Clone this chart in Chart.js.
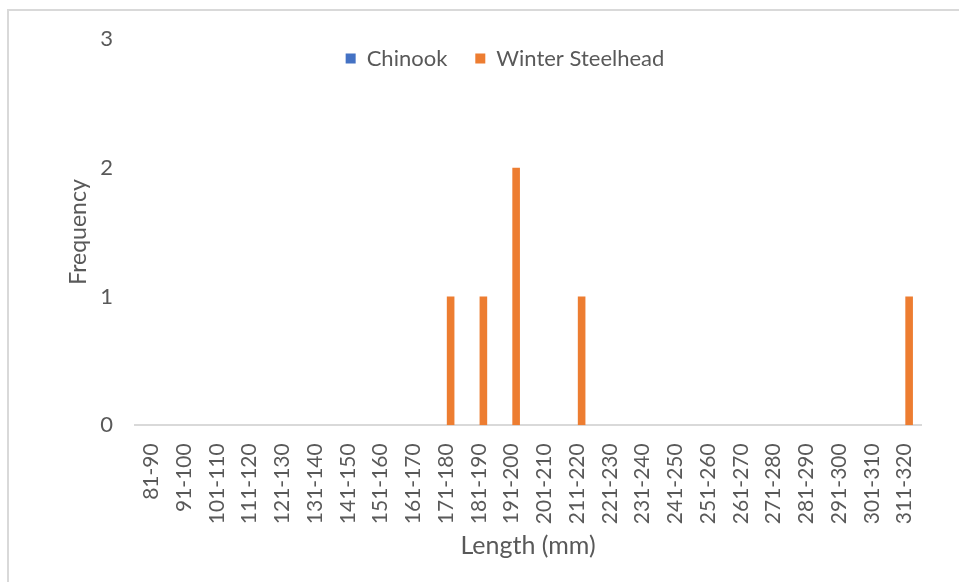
<!DOCTYPE html>
<html>
<head>
<meta charset="utf-8">
<script src="https://cdn.jsdelivr.net/npm/chart.js@4.4.0/dist/chart.umd.min.js"></script>
<style>
body { margin: 0; background: #fff; }
#frame { position: absolute; left: 7px; top: 9px; width: 952px; height: 573px; border-left: 2px solid #d9d9d9; border-top: 2px solid #d9d9d9; box-sizing: border-box; }
#wrap { position: absolute; left: 0; top: 0; width: 959px; height: 582px; }
</style>
</head>
<body>
<div id="frame"></div>
<div id="wrap"><canvas id="myChart" width="959" height="582"></canvas></div>
<script>
// length classes (mm)
const lengthBins = ['81-90', '91-100', '101-110', '111-120', '121-130', '131-140', '141-150', '151-160',
    '161-170', '171-180', '181-190', '191-200', '201-210', '211-220', '221-230', '231-240',
    '241-250', '251-260', '261-270', '271-280', '281-290', '291-300', '301-310', '311-320'];
const chinook = [0, 0, 0, 0, 0, 0, 0, 0, 0, 0, 0, 0, 0, 0, 0, 0, 0, 0, 0, 0, 0, 0, 0, 0];
const winterSteelhead = [0, 0, 0, 0, 0, 0, 0, 0, 0, 1, 1, 2, 0, 1, 0, 0, 0, 0, 0, 0, 0, 0, 0, 1];
const yTicks = [0, 1, 2, 3];

const textColor = '#595959';
const fontName = 'Lato';

// legend sits inside the plot like in excel
const legendFix = {
    id: 'legendFix',
    beforeInit(chart) {
        const fit = chart.legend.fit;
        chart.legend.fit = function () {
            fit.call(this);
            this.height = 38.8;
        };
    },
    afterLayout(chart) {
        const lg = chart.legend;
        lg.left -= 23;
        lg.right -= 23;
        lg.top = 19.5;
        lg.bottom = 80;
    }
};

var ctx = document.getElementById('myChart').getContext('2d');
var chart = new Chart(ctx, {
    type: 'bar',
    data: {
        labels: lengthBins,
        datasets: [
            {
                label: 'Chinook',
                data: chinook,
                backgroundColor: '#4472C4',
                borderWidth: 0
            },
            {
                label: 'Winter Steelhead',
                data: winterSteelhead,
                backgroundColor: '#ED7D31',
                borderWidth: 0
            }
        ]
    },
    options: {
        responsive: false,
        animation: false,
        layout: { padding: { left: 0, right: 38, top: 0, bottom: 0 } },
        datasets: {
            bar: { categoryPercentage: 0.55, barPercentage: 0.845 }
        },
        plugins: {
            tooltip: { enabled: false },
            legend: {
                position: 'top',
                fullSize: false,
                labels: {
                    boxWidth: 10,
                    boxHeight: 10,
                    padding: 28,
                    color: textColor,
                    font: { family: fontName, size: 22 }
                }
            }
        },
        scales: {
            x: {
                grid: { display: false },
                border: { display: true, color: '#d9d9d9', width: 2 },
                ticks: {
                    autoSkip: false,
                    minRotation: 90,
                    maxRotation: 90,
                    padding: 10,
                    color: textColor,
                    font: { family: fontName, size: 21 }
                },
                title: {
                    display: true,
                    text: 'Length (mm)',
                    color: textColor,
                    font: { family: fontName, size: 25 },
                    padding: { top: 0, bottom: 21 }
                },
                afterFit(scale) { scale.height = 156.7; }
            },
            y: {
                min: 0,
                max: 3,
                grid: { display: false },
                border: { display: false },
                afterBuildTicks(scale) { scale.ticks = yTicks.map(v => ({ value: v })); },
                ticks: {
                    stepSize: 1,
                    padding: 14,
                    color: textColor,
                    font: { family: fontName, size: 22 }
                },
                title: {
                    display: true,
                    text: 'Frequency',
                    color: textColor,
                    font: { family: fontName, size: 23 },
                    padding: { top: 65, bottom: 0 }
                },
                afterFit(scale) { scale.width = 135; }
            }
        }
    },
    plugins: [legendFix]
});
</script>
</body>
</html>
